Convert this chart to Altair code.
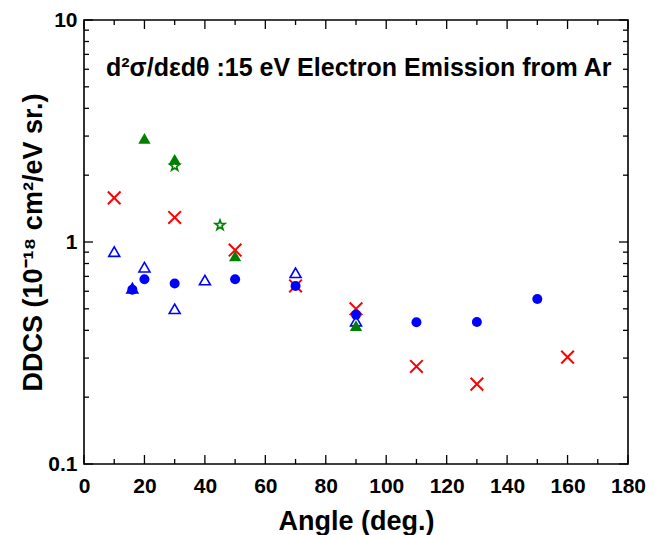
import altair as alt
import pandas as pd

# ---- data ----
red_x_angle = [10, 30, 50, 70, 90, 110, 130, 160]
red_x_ddcs = [1.58, 1.29, 0.92, 0.634, 0.50, 0.275, 0.229, 0.303]

blue_circle_angle = [16, 20, 30, 50, 70, 90, 110, 130, 150]
blue_circle_ddcs = [0.61, 0.68, 0.65, 0.68, 0.634, 0.47, 0.435, 0.436, 0.554]

blue_tri_angle = [10, 16, 20, 30, 40, 70, 90]
blue_tri_ddcs = [0.905, 0.62, 0.77, 0.50, 0.674, 0.727, 0.44]

green_tri_angle = [20, 30, 50, 90]
green_tri_ddcs = [2.93, 2.36, 0.865, 0.42]

green_star_angle = [30, 45]
green_star_ddcs = [2.2, 1.19]

x_major = [0, 20, 40, 60, 80, 100, 120, 140, 160, 180]
x_minor = [10, 30, 50, 70, 90, 110, 130, 150, 170]
y_major = [0.1, 1, 10]
y_minor = [0.2, 0.3, 0.4, 0.5, 0.6, 0.7, 0.8, 0.9, 2, 3, 4, 5, 6, 7, 8, 9]

title_text = "d\u00b2\u03c3/d\u03b5d\u03b8 :15 eV Electron Emission from Ar"
x_title = "Angle (deg.)"
y_title = "DDCS (10\u207b\u00b9\u2078 cm\u00b2/eV sr.)"

W, H = 544, 444
FONT = "Liberation Sans"

xs = alt.Scale(domain=[0, 180], nice=False, zero=False)
ys = alt.Scale(type="log", domain=[0.1, 10], nice=False)

X = alt.X("angle:Q", scale=xs, axis=alt.Axis(values=x_major, title=x_title, ticks=False,
          domain=False, grid=False, labelPadding=11, titlePadding=12, format="d",
          labelFlush=False))
Y = alt.Y("ddcs:Q", scale=ys, axis=alt.Axis(values=y_major, title=y_title, ticks=False,
          domain=False, grid=False, labelPadding=7, titlePadding=0, labelFlush=False,
          labelExpr="datum.value >= 1 ? format(datum.value, 'd') : format(datum.value, '.1f')"))


def df(a, d):
    return pd.DataFrame({"angle": a, "ddcs": d})


X_PATH = "M-1,-1L1,1M1,-1L-1,1"
STAR_PATH = ("M0,-1L0.235,-0.324L0.951,-0.309L0.38,0.124L0.588,0.809L0,0.4"
             "L-0.588,0.809L-0.38,0.124L-0.951,-0.309L-0.235,-0.324Z")

red_layer = alt.Chart(df(red_x_angle, red_x_ddcs)).mark_point(
    shape=X_PATH, size=160, color="#ff0000", strokeWidth=2, filled=False, opacity=1
).encode(x=X, y=Y)

blue_circ = alt.Chart(df(blue_circle_angle, blue_circle_ddcs)).mark_point(
    shape="circle", size=100, color="#0000ff", filled=True, opacity=1
).encode(x=X, y=Y)

blue_tri = alt.Chart(df(blue_tri_angle, blue_tri_ddcs)).mark_point(
    shape="triangle-up", size=120, color="#0000ff", filled=False, strokeWidth=1.6, opacity=1
).encode(x=X, y=Y)

green_tri = alt.Chart(df(green_tri_angle, green_tri_ddcs)).mark_point(
    shape="triangle-up", size=150, color="#008000", filled=True, opacity=1
).encode(x=X, y=Y)

green_star = alt.Chart(df(green_star_angle, green_star_ddcs)).mark_point(
    shape=STAR_PATH, size=110, color="#008000", filled=False, strokeWidth=1.6, opacity=1
).encode(x=X, y=Y)


# inward ticks on all four sides
def xticks(vals, length):
    d = pd.DataFrame({"angle": vals})
    bot = alt.Chart(d).mark_rule(color="black", strokeWidth=1.3).encode(
        x=X, y=alt.value(H), y2=alt.value(H - length))
    top = alt.Chart(d).mark_rule(color="black", strokeWidth=1.3).encode(
        x=X, y=alt.value(0), y2=alt.value(length))
    return [bot, top]


def yticks(vals, length):
    d = pd.DataFrame({"ddcs": vals})
    left = alt.Chart(d).mark_rule(color="black", strokeWidth=1.3).encode(
        y=Y, x=alt.value(0), x2=alt.value(length))
    right = alt.Chart(d).mark_rule(color="black", strokeWidth=1.3).encode(
        y=Y, x=alt.value(W), x2=alt.value(W - length))
    return [left, right]


ticks = xticks(x_major, 9) + xticks(x_minor, 5) + yticks(y_major, 9) + yticks(y_minor, 5)

title = alt.Chart(pd.DataFrame({"t": [title_text]})).mark_text(
    align="left", baseline="middle", font=FONT, fontWeight="bold", fontSize=25, color="black"
).encode(x=alt.value(22), y=alt.value(48), text="t:N")

chart = alt.layer(
    *ticks, blue_tri, red_layer, blue_circ, green_tri, green_star, title
).properties(
    width=W, height=H, padding={"left": 11, "top": 1, "right": 0, "bottom": 2}
).configure_view(
    stroke="black", strokeWidth=1.6
).configure_axis(
    labelFont=FONT, labelFontSize=21, labelFontWeight="bold", labelColor="black",
    titleFont=FONT, titleFontSize=27, titleFontWeight="bold", titleColor="black"
)

chart.save("out.html", embed_options={"renderer": "svg", "actions": False})
